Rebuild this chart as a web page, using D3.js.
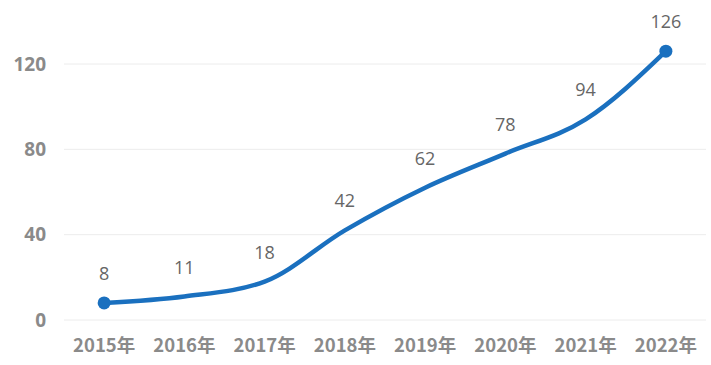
<!DOCTYPE html>
<html>
<head>
<meta charset="utf-8">
<script src="https://cdn.jsdelivr.net/npm/d3@7"></script>
<style>
body { margin: 0; background: #fff; }
</style>
</head>
<body>
<div id="chart"></div>
<script>
var years = ['2015年', '2016年', '2017年', '2018年', '2019年', '2020年', '2021年', '2022年'];
var values = [8, 11, 18, 42, 62, 78, 94, 126];
var yTicks = [0, 40, 80, 120];

var svgwidth = 711, svgheight = 365;
var margin = { top: 0, right: 5, bottom: 45, left: 64 };

var svg = d3.select('#chart')
	.append('svg')
	.attr('width', svgwidth)
	.attr('height', svgheight);

var x = d3.scaleBand()
	.domain(years)
	.range([margin.left, svgwidth - margin.right]);

var y = d3.scaleLinear()
	.domain([0, 120])
	.range([320, 64]);

// grid lines
svg.append('g')
	.selectAll('line')
	.data(yTicks)
	.enter().append('line')
	.attr('x1', margin.left)
	.attr('x2', svgwidth - margin.right)
	.attr('y1', function(d) { return y(d); })
	.attr('y2', function(d) { return y(d); })
	.attr('stroke', '#ececec')
	.attr('stroke-width', 1);

// y axis labels
var yAxis = d3.axisLeft(y).tickValues(yTicks).tickSize(0).tickPadding(0);
var gY = svg.append('g')
	.attr('transform', 'translate(46,0)')
	.call(yAxis);
gY.select('.domain').remove();
gY.selectAll('text')
	.attr('font-family', 'Open Sans, sans-serif')
	.attr('font-weight', 'bold')
	.attr('font-size', 19)
	.attr('fill', '#8a8a8a');

// x axis labels
var xAxis = d3.axisBottom(x).tickSize(0).tickPadding(0);
var gX = svg.append('g')
	.attr('transform', 'translate(0,339)')
	.call(xAxis);
gX.select('.domain').remove();
gX.selectAll('text')
	.attr('font-family', 'Noto Sans CJK SC, sans-serif')
	.attr('font-weight', 'bold')
	.attr('font-size', 18.5)
	.attr('fill', '#8a8a8a');

var cx = function(d, i) { return x(years[i]) + x.bandwidth() / 2; };

var line = d3.line()
	.curve(d3.curveMonotoneX)
	.x(cx)
	.y(function(d) { return y(d); });

svg.append('path')
	.datum(values)
	.attr('fill', 'none')
	.attr('stroke', '#1a70bf')
	.attr('stroke-width', 4.5)
	.attr('stroke-linecap', 'round')
	.attr('d', line);

// markers at ends only
svg.append('g')
	.selectAll('circle')
	.data([0, values.length - 1])
	.enter().append('circle')
	.attr('cx', function(i) { return cx(values[i], i); })
	.attr('cy', function(i) { return y(values[i]); })
	.attr('r', 6.5)
	.attr('fill', '#1a70bf');

// data labels
svg.append('g')
	.selectAll('text')
	.data(values)
	.enter().append('text')
	.attr('x', cx)
	.attr('y', function(d) { return y(d) - 23; })
	.attr('text-anchor', 'middle')
	.attr('font-family', 'Open Sans, sans-serif')
	.attr('font-size', 18)
	.attr('fill', '#666666')
	.text(function(d) { return d; });
</script>
</body>
</html>
